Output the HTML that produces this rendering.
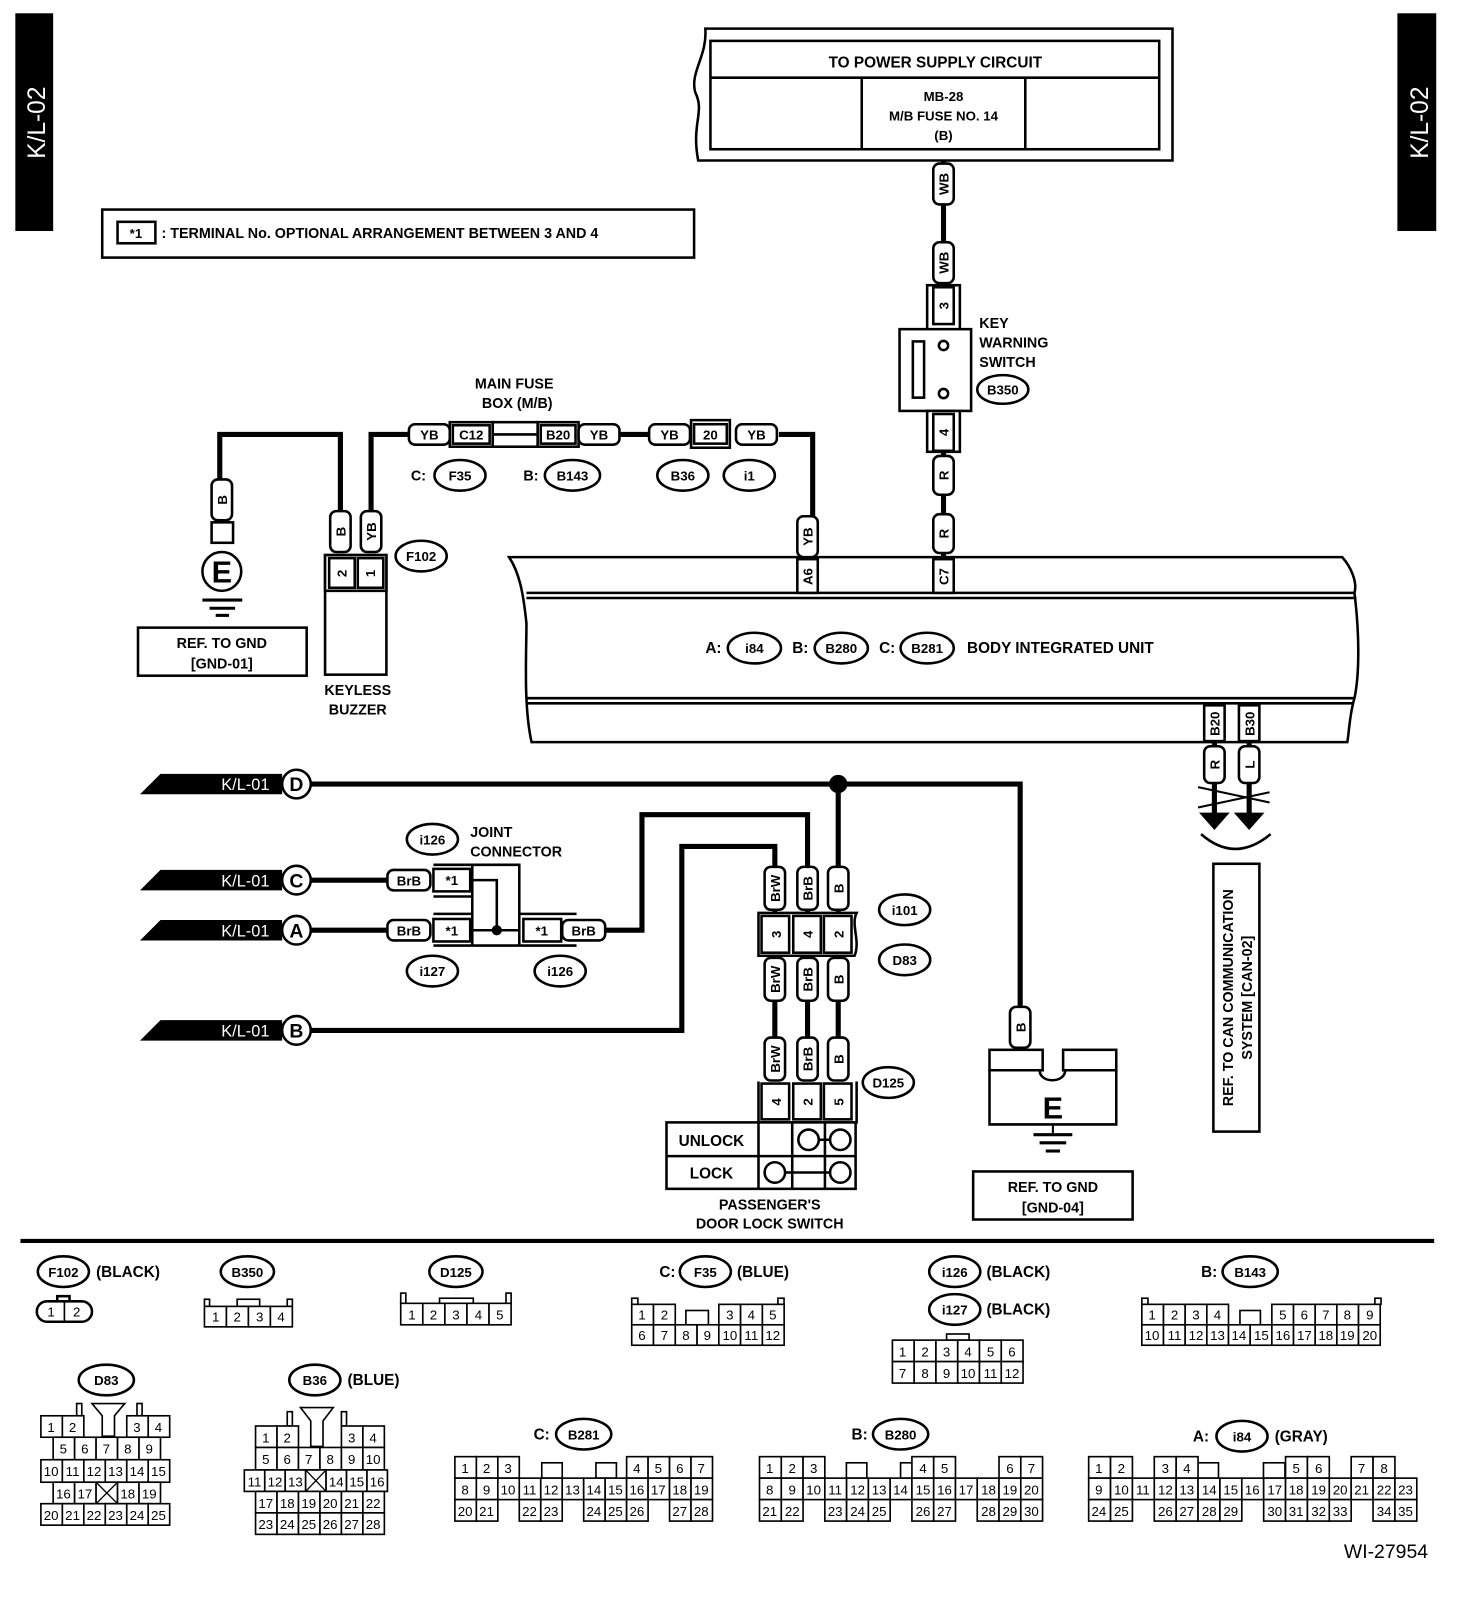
<!DOCTYPE html>
<html><head><meta charset="utf-8"><style>
html,body{margin:0;padding:0;background:#fff}
svg{display:block}
text{font-family:"Liberation Sans",Arial,sans-serif;font-weight:bold;fill:#000}
.w{stroke:#000;stroke-width:5;fill:none}
.o{stroke:#000;stroke-width:2.5;fill:#fff}
.on{stroke:#000;stroke-width:2.5;fill:none}
.t{font-size:15px;text-anchor:middle}
.s{font-size:13px;text-anchor:middle}
.c rect{fill:#fff;stroke:#000;stroke-width:1.6}
.c text{font-size:13px;font-weight:normal;text-anchor:middle}
</style></head><body>
<svg width="1472" height="1610" viewBox="0 0 1440 1575" xmlns="http://www.w3.org/2000/svg">
<!-- side tabs -->
<rect x="15" y="13" width="37" height="213" fill="#000"/>
<text transform="translate(44,120) rotate(-90)" style="font-size:24px;fill:#fff;text-anchor:middle;font-weight:normal">K/L-02</text>
<rect x="1367" y="13" width="38" height="213" fill="#000"/>
<text transform="translate(1397,120) rotate(-90)" style="font-size:24px;fill:#fff;text-anchor:middle;font-weight:normal">K/L-02</text>

<!-- power supply box -->
<path d="M690,28 H1147 V157 H683 C676,120 690,110 680,90 C675,70 692,55 690,28Z" class="o" stroke-width="3"/>
<rect x="695" y="40" width="439" height="106" class="o" stroke-width="3"/>
<line x1="695" y1="76" x2="1134" y2="76" class="on"/>
<line x1="843" y1="76" x2="843" y2="146" class="on"/>
<line x1="1003" y1="76" x2="1003" y2="146" class="on"/>
<text x="915" y="66" class="t">TO POWER SUPPLY CIRCUIT</text>
<text x="923" y="99" class="s">MB-28</text>
<text x="923" y="118" class="s">M/B FUSE NO. 14</text>
<text x="923" y="137" class="s">(B)</text>

<!-- note -->
<rect x="100" y="205" width="579" height="47" class="o" stroke-width="3"/>
<rect x="115" y="217" width="37" height="21" class="o"/>
<text x="133" y="233" class="s">*1</text>
<text x="158" y="233" style="font-size:14px">: TERMINAL No. OPTIONAL ARRANGEMENT BETWEEN 3 AND 4</text>

<!-- key warning wire -->
<line x1="923" y1="157" x2="923" y2="322" class="w"/>
<line x1="923" y1="402" x2="923" y2="545" class="w"/>
<g transform="translate(923,180)"><rect x="-10" y="-20" width="20" height="40" rx="6" class="o"/><text transform="rotate(-90)" y="5" class="s">WB</text></g>
<g transform="translate(923,257)"><rect x="-10" y="-20" width="20" height="40" rx="6" class="o"/><text transform="rotate(-90)" y="5" class="s">WB</text></g>
<rect x="907" y="279" width="32" height="44" class="o"/>
<rect x="913" y="281" width="20" height="36" class="o"/>
<text transform="translate(928,299) rotate(-90)" class="s">3</text>
<rect x="880" y="322" width="70" height="80" class="o"/>
<rect x="893" y="334" width="11" height="55" class="o"/>
<circle cx="923" cy="338" r="4.5" class="o"/><circle cx="923" cy="385" r="4.5" class="o"/>
<rect x="907" y="402" width="32" height="40" class="o"/>
<rect x="913" y="405" width="20" height="36" class="o"/>
<text transform="translate(928,423) rotate(-90)" class="s">4</text>
<g transform="translate(923,465)"><rect x="-10" y="-19" width="20" height="38" rx="6" class="o"/><text transform="rotate(-90)" y="5" class="s">R</text></g>
<g transform="translate(923,522)"><rect x="-10" y="-19" width="20" height="38" rx="6" class="o"/><text transform="rotate(-90)" y="5" class="s">R</text></g>
<text x="958" y="321" style="font-size:14px">KEY</text>
<text x="958" y="340" style="font-size:14px">WARNING</text>
<text x="958" y="359" style="font-size:14px">SWITCH</text>
<ellipse cx="981" cy="381" rx="25" ry="14" class="o"/><text x="981" y="386" class="s">B350</text>

<!-- body integrated unit -->
<path d="M498,545 H1313 C1322,555 1328,570 1325,580 C1330,620 1330,660 1325,683 C1320,700 1320,715 1318,726 H520 C512,690 515,640 515,610 C512,580 508,560 498,545Z" class="o" stroke-width="3"/>
<line x1="515" y1="580" x2="1326" y2="580" class="on" stroke-width="3"/>
<line x1="515" y1="585" x2="1327" y2="585" class="on" stroke-width="2"/>
<line x1="515" y1="683" x2="1326" y2="683" class="on" stroke-width="3"/>
<line x1="515" y1="688" x2="1324" y2="688" class="on" stroke-width="2"/>
<text x="690" y="639" style="font-size:15px">A:</text>
<ellipse cx="738" cy="634" rx="26" ry="15" class="o"/><text x="738" y="639" class="s">i84</text>
<text x="775" y="639" style="font-size:15px">B:</text>
<ellipse cx="823" cy="634" rx="26" ry="15" class="o"/><text x="823" y="639" class="s">B280</text>
<text x="860" y="639" style="font-size:15px">C:</text>
<ellipse cx="907" cy="634" rx="26" ry="15" class="o"/><text x="907" y="639" class="s">B281</text>
<text x="946" y="639" style="font-size:15px">BODY INTEGRATED UNIT</text>
<rect x="913" y="547" width="20" height="33" class="o"/>
<text transform="translate(928,564) rotate(-90)" class="s">C7</text>
<rect x="780" y="547" width="20" height="33" class="o"/>
<text transform="translate(795,564) rotate(-90)" class="s">A6</text>

<!-- YB wire to A6 -->
<path d="M762,425 H795 V505" class="w"/>
<g transform="translate(790,525)"><rect x="-10" y="-20" width="20" height="40" rx="6" class="o"/><text transform="rotate(-90)" y="5" class="s">YB</text></g>
<path d="M605,425 H635" class="w"/>
<path d="M400,425 H363 V500" class="w"/>
<g transform="translate(420,425)"><rect x="-20" y="-10" width="40" height="20" rx="6" class="o"/><text y="5" class="s">YB</text></g>
<rect x="440" y="413" width="42" height="24" class="o"/><rect x="443" y="416" width="36" height="18" class="o"/><text x="461" y="430" class="s">C12</text>
<rect x="482" y="413" width="44" height="24" class="o"/><line x1="482" y1="425" x2="526" y2="425" class="on"/>
<rect x="526" y="413" width="40" height="24" class="o"/><rect x="529" y="416" width="34" height="18" class="o"/><text x="546" y="430" class="s">B20</text>
<g transform="translate(586,425)"><rect x="-20" y="-10" width="40" height="20" rx="6" class="o"/><text y="5" class="s">YB</text></g>
<g transform="translate(655,425)"><rect x="-20" y="-10" width="40" height="20" rx="6" class="o"/><text y="5" class="s">YB</text></g>
<rect x="676" y="411" width="38" height="27" class="o"/><rect x="679" y="415" width="32" height="19" class="o"/><text x="695" y="430" class="s">20</text>
<g transform="translate(740,425)"><rect x="-20" y="-10" width="40" height="20" rx="6" class="o"/><text y="5" class="s">YB</text></g>
<text x="503" y="380" class="s" style="font-size:14px">MAIN FUSE</text>
<text x="506" y="399" class="s" style="font-size:14px">BOX (M/B)</text>
<text x="402" y="470" style="font-size:14px">C:</text>
<ellipse cx="450" cy="465" rx="25" ry="15" class="o"/><text x="450" y="470" class="s">F35</text>
<text x="512" y="470" style="font-size:14px">B:</text>
<ellipse cx="560" cy="465" rx="27" ry="15" class="o"/><text x="560" y="470" class="s">B143</text>
<ellipse cx="668" cy="465" rx="25" ry="15" class="o"/><text x="668" y="470" class="s">B36</text>
<ellipse cx="733" cy="465" rx="25" ry="15" class="o"/><text x="733" y="470" class="s">i1</text>

<!-- keyless buzzer -->
<path d="M333,500 V425 H215 V468" class="w"/>
<g transform="translate(333,520)"><rect x="-10" y="-20" width="20" height="40" rx="6" class="o"/><text transform="rotate(-90)" y="5" class="s">B</text></g>
<g transform="translate(363,520)"><rect x="-10" y="-20" width="20" height="40" rx="6" class="o"/><text transform="rotate(-90)" y="5" class="s">YB</text></g>
<rect x="318" y="543" width="60" height="117" class="o"/>
<rect x="318" y="543" width="60" height="35" class="o"/>
<rect x="322" y="546" width="25" height="29" class="o"/><rect x="350" y="546" width="25" height="29" class="o"/>
<text transform="translate(339,561) rotate(-90)" class="s">2</text>
<text transform="translate(367,561) rotate(-90)" class="s">1</text>
<ellipse cx="412" cy="544" rx="25" ry="15" class="o"/><text x="412" y="549" class="s">F102</text>
<text x="350" y="680" class="s" style="font-size:14px">KEYLESS</text>
<text x="350" y="699" class="s" style="font-size:14px">BUZZER</text>

<!-- ground E left -->
<g transform="translate(217,489)"><rect x="-10" y="-20" width="20" height="40" rx="6" class="o"/><text transform="rotate(-90)" y="5" class="s">B</text></g>
<rect x="207" y="511" width="21" height="20" class="o"/>
<circle cx="217" cy="559" r="19" class="o" stroke-width="3"/>
<text x="217" y="570" class="t" style="font-size:30px">E</text>
<line x1="198" y1="587" x2="237" y2="587" stroke="#000" stroke-width="3"/>
<line x1="205" y1="595" x2="230" y2="595" stroke="#000" stroke-width="3"/>
<line x1="211" y1="602" x2="224" y2="602" stroke="#000" stroke-width="3"/>
<rect x="135" y="614" width="165" height="47" class="o" stroke-width="3"/>
<text x="217" y="634" class="s" style="font-size:14px">REF. TO GND</text>
<text x="217" y="654" class="s" style="font-size:14px">[GND-01]</text>

<!-- CAN -->
<rect x="1178" y="690" width="20" height="35" class="o"/><text transform="translate(1193,708) rotate(-90)" class="s">B20</text>
<rect x="1212" y="690" width="20" height="35" class="o"/><text transform="translate(1227,708) rotate(-90)" class="s">B30</text>
<line x1="1188" y1="725" x2="1188" y2="800" class="w"/>
<line x1="1222" y1="725" x2="1222" y2="800" class="w"/>
<g transform="translate(1188,748)"><rect x="-10" y="-18" width="20" height="36" rx="6" class="o"/><text transform="rotate(-90)" y="5" class="s">R</text></g>
<g transform="translate(1222,748)"><rect x="-10" y="-18" width="20" height="36" rx="6" class="o"/><text transform="rotate(-90)" y="5" class="s">L</text></g>
<path d="M1173,795 H1203 L1188,812Z M1207,795 H1237 L1222,812Z" fill="#000"/>
<line x1="1172" y1="770" x2="1242" y2="785" stroke="#000" stroke-width="2"/>
<line x1="1172" y1="790" x2="1242" y2="775" stroke="#000" stroke-width="2"/>
<path d="M1175,816 Q1208,845 1243,816" class="on" stroke-width="2"/>
<rect x="1187" y="845" width="45" height="262" class="o" stroke-width="3"/>
<text transform="translate(1206,976) rotate(-90)" class="s" style="font-size:14px">REF. TO CAN COMMUNICATION</text>
<text transform="translate(1225,976) rotate(-90)" class="s" style="font-size:14px">SYSTEM [CAN-02]</text>

<!-- K/L-01 arrows -->
<g>
<polygon points="137,777 157,757 276,757 276,777" fill="#000"/>
<text x="240" y="773" class="t" style="fill:#fff;font-weight:normal;font-size:16px">K/L-01</text>
<polygon points="137,871 157,851 276,851 276,871" fill="#000"/>
<text x="240" y="867" class="t" style="fill:#fff;font-weight:normal;font-size:16px">K/L-01</text>
<polygon points="137,920 157,900 276,900 276,920" fill="#000"/>
<text x="240" y="916" class="t" style="fill:#fff;font-weight:normal;font-size:16px">K/L-01</text>
<polygon points="137,1018 157,998 276,998 276,1018" fill="#000"/>
<text x="240" y="1014" class="t" style="fill:#fff;font-weight:normal;font-size:16px">K/L-01</text>
</g>
<!-- wires -->
<path d="M304,767 H998 V985" class="w"/>
<path d="M820,767 V848" class="w"/>
<circle cx="820" cy="767" r="9" fill="#000"/>
<path d="M304,861 H378" class="w"/>
<path d="M304,910 H378" class="w"/>
<path d="M592,910 H628 V797 H790 V848" class="w"/>
<path d="M304,1008 H667 V828 H758 V848" class="w"/>
<path d="M758,890 V1015 M790,890 V1015 M820,890 V1015" class="w"/>
<circle cx="290" cy="767" r="14" class="o" stroke-width="3"/><text x="290" y="774" class="t" style="font-size:19px">D</text>
<circle cx="290" cy="861" r="14" class="o" stroke-width="3"/><text x="290" y="868" class="t" style="font-size:19px">C</text>
<circle cx="290" cy="910" r="14" class="o" stroke-width="3"/><text x="290" y="917" class="t" style="font-size:19px">A</text>
<circle cx="290" cy="1008" r="14" class="o" stroke-width="3"/><text x="290" y="1015" class="t" style="font-size:19px">B</text>

<!-- joint connector -->
<g transform="translate(400,861)"><rect x="-21" y="-10" width="42" height="20" rx="6" class="o"/><text y="5" class="s">BrB</text></g>
<g transform="translate(400,910)"><rect x="-21" y="-10" width="42" height="20" rx="6" class="o"/><text y="5" class="s">BrB</text></g>
<g transform="translate(571,910)"><rect x="-21" y="-10" width="42" height="20" rx="6" class="o"/><text y="5" class="s">BrB</text></g>
<rect x="424" y="850" width="36" height="22" class="o"/><text x="442" y="866" class="s">*1</text>
<rect x="424" y="899" width="36" height="22" class="o"/><text x="442" y="915" class="s">*1</text>
<rect x="512" y="899" width="37" height="22" class="o"/><text x="530" y="915" class="s">*1</text>
<path d="M424,846 H508 V925 H424 M424,877 H462 M424,894 H462 M462,846 V925 M508,894 H564 M508,925 H564" class="on"/>
<path d="M462,861 H486 V910 M462,910 H508" class="on" stroke-width="3"/>
<circle cx="486" cy="910" r="5" fill="#000"/>
<ellipse cx="423" cy="821" rx="25" ry="15" class="o"/><text x="423" y="826" class="s">i126</text>
<text x="460" y="819" style="font-size:14px">JOINT</text>
<text x="460" y="838" style="font-size:14px">CONNECTOR</text>
<ellipse cx="423" cy="950" rx="25" ry="15" class="o"/><text x="423" y="955" class="s">i127</text>
<ellipse cx="548" cy="950" rx="25" ry="15" class="o"/><text x="548" y="955" class="s">i126</text>

<!-- i101 / D83 -->
<g transform="translate(758,869)"><rect x="-10" y="-21" width="20" height="42" rx="6" class="o"/><text transform="rotate(-90)" y="5" class="s">BrW</text></g>
<g transform="translate(790,869)"><rect x="-10" y="-21" width="20" height="42" rx="6" class="o"/><text transform="rotate(-90)" y="5" class="s">BrB</text></g>
<g transform="translate(820,869)"><rect x="-10" y="-21" width="20" height="42" rx="6" class="o"/><text transform="rotate(-90)" y="5" class="s">B</text></g>
<path d="M742,893 H838 C832,905 842,920 836,935 H742Z" class="o"/>
<rect x="745" y="896" width="27" height="36" class="o"/><rect x="776" y="896" width="27" height="36" class="o"/><rect x="806" y="896" width="27" height="36" class="o"/>
<text transform="translate(764,914) rotate(-90)" class="s">3</text>
<text transform="translate(795,914) rotate(-90)" class="s">4</text>
<text transform="translate(825,914) rotate(-90)" class="s">2</text>
<g transform="translate(758,958)"><rect x="-10" y="-21" width="20" height="42" rx="6" class="o"/><text transform="rotate(-90)" y="5" class="s">BrW</text></g>
<g transform="translate(790,958)"><rect x="-10" y="-21" width="20" height="42" rx="6" class="o"/><text transform="rotate(-90)" y="5" class="s">BrB</text></g>
<g transform="translate(820,958)"><rect x="-10" y="-21" width="20" height="42" rx="6" class="o"/><text transform="rotate(-90)" y="5" class="s">B</text></g>
<g transform="translate(758,1036)"><rect x="-10" y="-21" width="20" height="42" rx="6" class="o"/><text transform="rotate(-90)" y="5" class="s">BrW</text></g>
<g transform="translate(790,1036)"><rect x="-10" y="-21" width="20" height="42" rx="6" class="o"/><text transform="rotate(-90)" y="5" class="s">BrB</text></g>
<g transform="translate(820,1036)"><rect x="-10" y="-21" width="20" height="42" rx="6" class="o"/><text transform="rotate(-90)" y="5" class="s">B</text></g>
<ellipse cx="885" cy="890" rx="25" ry="15" class="o"/><text x="885" y="895" class="s">i101</text>
<ellipse cx="885" cy="939" rx="25" ry="15" class="o"/><text x="885" y="944" class="s">D83</text>
<!-- D125 switch -->
<path d="M742,1058 V1098 H838 V1058" class="on"/>
<rect x="745" y="1060" width="27" height="35" class="o"/><rect x="776" y="1060" width="27" height="35" class="o"/><rect x="806" y="1060" width="27" height="35" class="o"/>
<text transform="translate(764,1078) rotate(-90)" class="s">4</text>
<text transform="translate(795,1078) rotate(-90)" class="s">2</text>
<text transform="translate(825,1078) rotate(-90)" class="s">5</text>
<ellipse cx="869" cy="1059" rx="25" ry="15" class="o"/><text x="869" y="1064" class="s">D125</text>
<rect x="652" y="1098" width="185" height="65" class="o" stroke-width="3"/>
<line x1="652" y1="1131" x2="837" y2="1131" class="on"/>
<line x1="742" y1="1098" x2="742" y2="1163" class="on"/>
<line x1="775" y1="1098" x2="775" y2="1163" class="on"/>
<line x1="807" y1="1098" x2="807" y2="1163" class="on"/>
<circle cx="791" cy="1115" r="10" class="o"/><circle cx="822" cy="1115" r="10" class="o"/>
<line x1="801" y1="1115" x2="812" y2="1115" class="on"/>
<circle cx="758" cy="1147" r="10" class="o"/><circle cx="822" cy="1147" r="10" class="o"/>
<line x1="768" y1="1147" x2="812" y2="1147" class="on"/>
<text x="696" y="1121" class="s" style="font-size:15px">UNLOCK</text>
<text x="696" y="1153" class="s" style="font-size:15px">LOCK</text>
<text x="753" y="1183" class="s" style="font-size:14px">PASSENGER'S</text>
<text x="753" y="1202" class="s" style="font-size:14px">DOOR LOCK SWITCH</text>

<!-- ground E right -->
<g transform="translate(998,1005)"><rect x="-10" y="-20" width="20" height="40" rx="6" class="o"/><text transform="rotate(-90)" y="5" class="s">B</text></g>
<rect x="968" y="1027" width="52" height="20" class="o" stroke-width="3"/>
<rect x="1040" y="1027" width="52" height="20" class="o" stroke-width="3"/>
<path d="M968,1047 H1017 C1017,1060 1042,1060 1042,1047 H1092 V1100 H968Z" class="o" stroke-width="3"/>
<text x="1030" y="1094" class="t" style="font-size:30px">E</text>
<line x1="1011" y1="1110" x2="1049" y2="1110" stroke="#000" stroke-width="3"/>
<line x1="1017" y1="1118" x2="1043" y2="1118" stroke="#000" stroke-width="3"/>
<line x1="1023" y1="1126" x2="1037" y2="1126" stroke="#000" stroke-width="3"/>
<line x1="1030" y1="1100" x2="1030" y2="1110" stroke="#000" stroke-width="2"/>
<rect x="952" y="1146" width="156" height="47" class="o" stroke-width="3"/>
<text x="1030" y="1166" class="s" style="font-size:14px">REF. TO GND</text>
<text x="1030" y="1186" class="s" style="font-size:14px">[GND-04]</text>

<!-- divider -->
<line x1="20" y1="1214" x2="1403" y2="1214" stroke="#000" stroke-width="4"/>

<!-- connector legends -->
<ellipse cx="62" cy="1244" rx="25" ry="15" class="o"/><text x="62" y="1249" class="s">F102</text>
<text x="94" y="1249" style="font-size:15px">(BLACK)</text>
<rect x="56" y="1268" width="12" height="6" class="o" stroke-width="1.5"/>
<rect x="36" y="1273" width="54" height="20" rx="10" class="o" stroke-width="1.6"/>
<line x1="63" y1="1273" x2="63" y2="1293" stroke="#000" stroke-width="1.6"/>
<text x="50" y="1288" class="s" style="font-weight:normal">1</text><text x="75" y="1288" class="s" style="font-weight:normal">2</text>

<ellipse cx="242" cy="1244" rx="26" ry="15" class="o"/><text x="242" y="1249" class="s">B350</text>
<g class="c" transform="translate(200,1278)">
<rect x="0" y="-7" width="5" height="7"/><rect x="32" y="-7" width="22" height="7"/><rect x="81" y="-7" width="5" height="7"/>
<rect x="0" y="0" width="21.5" height="20"/><rect x="21.5" y="0" width="21.5" height="20"/><rect x="43" y="0" width="21.5" height="20"/><rect x="64.5" y="0" width="21.5" height="20"/>
<text x="11" y="15">1</text><text x="32" y="15">2</text><text x="54" y="15">3</text><text x="75" y="15">4</text></g>

<ellipse cx="446" cy="1244" rx="26" ry="15" class="o"/><text x="446" y="1249" class="s">D125</text>
<g class="c" transform="translate(392,1275)">
<rect x="0" y="-10" width="5" height="10"/><rect x="38" y="-5" width="33" height="5"/><rect x="103" y="-10" width="5" height="10"/>
<rect x="0" y="0" width="21.6" height="21"/><rect x="21.6" y="0" width="21.6" height="21"/><rect x="43.2" y="0" width="21.6" height="21"/><rect x="64.8" y="0" width="21.6" height="21"/><rect x="86.4" y="0" width="21.6" height="21"/>
<text x="11" y="16">1</text><text x="32" y="16">2</text><text x="54" y="16">3</text><text x="76" y="16">4</text><text x="97" y="16">5</text></g>

<text x="645" y="1249" style="font-size:15px">C:</text>
<ellipse cx="690" cy="1244" rx="25" ry="15" class="o"/><text x="690" y="1249" class="s">F35</text>
<text x="721" y="1249" style="font-size:15px">(BLUE)</text>
<g class="c" transform="translate(618,1276)">
<rect x="0" y="-6" width="6" height="6"/><rect x="143" y="-6" width="6" height="6"/><rect x="53" y="6" width="22" height="14"/>
<rect x="0" y="0" width="21.3" height="20"/><rect x="21.3" y="0" width="21.3" height="20"/>
<rect x="85.2" y="0" width="21.3" height="20"/><rect x="106.5" y="0" width="21.3" height="20"/><rect x="127.8" y="0" width="21.3" height="20"/>
<rect x="0" y="20" width="21.3" height="20"/><rect x="21.3" y="20" width="21.3" height="20"/><rect x="42.6" y="20" width="21.3" height="20"/><rect x="63.9" y="20" width="21.3" height="20"/><rect x="85.2" y="20" width="21.3" height="20"/><rect x="106.5" y="20" width="21.3" height="20"/><rect x="127.8" y="20" width="21.3" height="20"/>
<text x="10" y="15">1</text><text x="32" y="15">2</text><text x="96" y="15">3</text><text x="117" y="15">4</text><text x="138" y="15">5</text>
<text x="10" y="35">6</text><text x="32" y="35">7</text><text x="53" y="35">8</text><text x="74" y="35">9</text><text x="96" y="35">10</text><text x="117" y="35">11</text><text x="138" y="35">12</text></g>

<ellipse cx="934" cy="1244" rx="25" ry="15" class="o"/><text x="934" y="1249" class="s">i126</text>
<text x="965" y="1249" style="font-size:15px">(BLACK)</text>
<ellipse cx="934" cy="1281" rx="25" ry="15" class="o"/><text x="934" y="1286" class="s">i127</text>
<text x="965" y="1286" style="font-size:15px">(BLACK)</text>
<g class="c" transform="translate(873,1311)">
<rect x="53" y="-6" width="22" height="6"/>
<rect x="0" y="0" width="21.3" height="21"/><rect x="21.3" y="0" width="21.3" height="21"/><rect x="42.6" y="0" width="21.3" height="21"/><rect x="63.9" y="0" width="21.3" height="21"/><rect x="85.2" y="0" width="21.3" height="21"/><rect x="106.5" y="0" width="21.3" height="21"/>
<rect x="0" y="21" width="21.3" height="21"/><rect x="21.3" y="21" width="21.3" height="21"/><rect x="42.6" y="21" width="21.3" height="21"/><rect x="63.9" y="21" width="21.3" height="21"/><rect x="85.2" y="21" width="21.3" height="21"/><rect x="106.5" y="21" width="21.3" height="21"/>
<text x="10" y="16">1</text><text x="32" y="16">2</text><text x="53" y="16">3</text><text x="74" y="16">4</text><text x="96" y="16">5</text><text x="117" y="16">6</text>
<text x="10" y="37">7</text><text x="32" y="37">8</text><text x="53" y="37">9</text><text x="74" y="37">10</text><text x="96" y="37">11</text><text x="117" y="37">12</text></g>

<text x="1175" y="1249" style="font-size:15px">B:</text>
<ellipse cx="1223" cy="1244" rx="27" ry="15" class="o"/><text x="1223" y="1249" class="s">B143</text>
<g class="c" transform="translate(1117,1276)">
<rect x="0" y="-6" width="6" height="6"/><rect x="228" y="-6" width="6" height="6"/><rect x="96" y="6" width="20" height="14"/>
<rect x="0" y="0" width="21.2" height="20"/><rect x="21.2" y="0" width="21.2" height="20"/><rect x="42.4" y="0" width="21.2" height="20"/><rect x="63.6" y="0" width="21.2" height="20"/>
<rect x="127.2" y="0" width="21.2" height="20"/><rect x="148.4" y="0" width="21.2" height="20"/><rect x="169.6" y="0" width="21.2" height="20"/><rect x="190.8" y="0" width="21.2" height="20"/><rect x="212" y="0" width="21.2" height="20"/>
<rect x="0" y="20" width="21.2" height="20"/><rect x="21.2" y="20" width="21.2" height="20"/><rect x="42.4" y="20" width="21.2" height="20"/><rect x="63.6" y="20" width="21.2" height="20"/><rect x="84.8" y="20" width="21.2" height="20"/><rect x="106" y="20" width="21.2" height="20"/><rect x="127.2" y="20" width="21.2" height="20"/><rect x="148.4" y="20" width="21.2" height="20"/><rect x="169.6" y="20" width="21.2" height="20"/><rect x="190.8" y="20" width="21.2" height="20"/><rect x="212" y="20" width="21.2" height="20"/>
<text x="10" y="15">1</text><text x="32" y="15">2</text><text x="53" y="15">3</text><text x="74" y="15">4</text><text x="138" y="15">5</text><text x="159" y="15">6</text><text x="180" y="15">7</text><text x="201" y="15">8</text><text x="223" y="15">9</text>
<text x="10" y="35">10</text><text x="32" y="35">11</text><text x="53" y="35">12</text><text x="74" y="35">13</text><text x="95" y="35">14</text><text x="117" y="35">15</text><text x="138" y="35">16</text><text x="159" y="35">17</text><text x="180" y="35">18</text><text x="201" y="35">19</text><text x="223" y="35">20</text></g>

<!-- D83 -->
<ellipse cx="104" cy="1350" rx="27" ry="15" class="o"/><text x="104" y="1355" class="s">D83</text>
<g class="c" transform="translate(40,1385)">
<rect x="35" y="-12" width="5" height="12"/><rect x="94" y="-12" width="5" height="12"/>
<path d="M50,-12 H82 L72,0 V20 H60 V0Z" fill="#fff" stroke="#000" stroke-width="1.6"/>
<rect x="0" y="0" width="21" height="21"/><rect x="21" y="0" width="21" height="21"/><rect x="84" y="0" width="21" height="21"/><rect x="105" y="0" width="21" height="21"/>
<rect x="12" y="21" width="21" height="22"/><rect x="33" y="21" width="21" height="22"/><rect x="54" y="21" width="21" height="22"/><rect x="75" y="21" width="21" height="22"/><rect x="96" y="21" width="21" height="22"/>
<rect x="0" y="43" width="21" height="22"/><rect x="21" y="43" width="21" height="22"/><rect x="42" y="43" width="21" height="22"/><rect x="63" y="43" width="21" height="22"/><rect x="84" y="43" width="21" height="22"/><rect x="105" y="43" width="21" height="22"/>
<rect x="12" y="65" width="21" height="21"/><rect x="33" y="65" width="21" height="21"/><rect x="54" y="65" width="21" height="21"/><rect x="75" y="65" width="21" height="21"/><rect x="96" y="65" width="21" height="21"/>
<path d="M54,65 L75,86 M75,65 L54,86" stroke="#000" stroke-width="1.3"/>
<rect x="0" y="86" width="21" height="21"/><rect x="21" y="86" width="21" height="21"/><rect x="42" y="86" width="21" height="21"/><rect x="63" y="86" width="21" height="21"/><rect x="84" y="86" width="21" height="21"/><rect x="105" y="86" width="21" height="21"/>
<text x="10" y="16">1</text><text x="31" y="16">2</text><text x="94" y="16">3</text><text x="115" y="16">4</text>
<text x="22" y="37">5</text><text x="43" y="37">6</text><text x="64" y="37">7</text><text x="85" y="37">8</text><text x="106" y="37">9</text>
<text x="10" y="59">10</text><text x="31" y="59">11</text><text x="52" y="59">12</text><text x="73" y="59">13</text><text x="94" y="59">14</text><text x="115" y="59">15</text>
<text x="22" y="81">16</text><text x="43" y="81">17</text><text x="85" y="81">18</text><text x="106" y="81">19</text>
<text x="10" y="102">20</text><text x="31" y="102">21</text><text x="52" y="102">22</text><text x="73" y="102">23</text><text x="94" y="102">24</text><text x="115" y="102">25</text></g>

<!-- B36 -->
<ellipse cx="308" cy="1350" rx="25" ry="15" class="o"/><text x="308" y="1355" class="s">B36</text>
<text x="340" y="1355" style="font-size:15px">(BLUE)</text>
<g class="c" transform="translate(250,1395)">
<rect x="31" y="-14" width="5" height="14"/><rect x="84" y="-14" width="5" height="14"/>
<path d="M44,-18 H76 L66,-5 V20 H54 V-5Z" fill="#fff" stroke="#000" stroke-width="1.6"/>
<rect x="0" y="0" width="21" height="21"/><rect x="21" y="0" width="21" height="21"/><rect x="84" y="0" width="21" height="21"/><rect x="105" y="0" width="21" height="21"/>
<rect x="0" y="21" width="21" height="22"/><rect x="21" y="21" width="21" height="22"/><rect x="42" y="21" width="21" height="22"/><rect x="63" y="21" width="21" height="22"/><rect x="84" y="21" width="21" height="22"/><rect x="105" y="21" width="21" height="22"/>
<rect x="-11" y="43" width="20" height="21"/><rect x="9" y="43" width="20" height="21"/><rect x="29" y="43" width="20" height="21"/><rect x="49" y="43" width="20" height="21"/><rect x="69" y="43" width="20" height="21"/><rect x="89" y="43" width="20" height="21"/><rect x="109" y="43" width="20" height="21"/>
<path d="M49,43 L69,64 M69,43 L49,64" stroke="#000" stroke-width="1.3"/>
<rect x="0" y="64" width="21" height="21"/><rect x="21" y="64" width="21" height="21"/><rect x="42" y="64" width="21" height="21"/><rect x="63" y="64" width="21" height="21"/><rect x="84" y="64" width="21" height="21"/><rect x="105" y="64" width="21" height="21"/>
<rect x="0" y="85" width="21" height="21"/><rect x="21" y="85" width="21" height="21"/><rect x="42" y="85" width="21" height="21"/><rect x="63" y="85" width="21" height="21"/><rect x="84" y="85" width="21" height="21"/><rect x="105" y="85" width="21" height="21"/>
<text x="10" y="16">1</text><text x="31" y="16">2</text><text x="94" y="16">3</text><text x="115" y="16">4</text>
<text x="10" y="37">5</text><text x="31" y="37">6</text><text x="52" y="37">7</text><text x="73" y="37">8</text><text x="94" y="37">9</text><text x="115" y="37">10</text>
<text x="-1" y="59">11</text><text x="19" y="59">12</text><text x="39" y="59">13</text><text x="79" y="59">14</text><text x="99" y="59">15</text><text x="119" y="59">16</text>
<text x="10" y="80">17</text><text x="31" y="80">18</text><text x="52" y="80">19</text><text x="73" y="80">20</text><text x="94" y="80">21</text><text x="115" y="80">22</text>
<text x="10" y="101">23</text><text x="31" y="101">24</text><text x="52" y="101">25</text><text x="73" y="101">26</text><text x="94" y="101">27</text><text x="115" y="101">28</text></g>

<!-- B281 -->
<text x="522" y="1408" style="font-size:15px">C:</text>
<ellipse cx="571" cy="1403" rx="27" ry="15" class="o"/><text x="571" y="1408" class="s">B281</text>
<g class="c" transform="translate(445,1425)">
<rect x="85" y="6" width="20" height="15"/><rect x="138" y="6" width="20" height="15"/>
<rect x="0" y="0" width="21" height="21"/><rect x="21" y="0" width="21" height="21"/><rect x="42" y="0" width="21" height="21"/>
<rect x="168" y="0" width="21" height="21"/><rect x="189" y="0" width="21" height="21"/><rect x="210" y="0" width="21" height="21"/><rect x="231" y="0" width="21" height="21"/>
<rect x="0" y="21" width="21" height="21"/><rect x="21" y="21" width="21" height="21"/><rect x="42" y="21" width="21" height="21"/><rect x="63" y="21" width="21" height="21"/><rect x="84" y="21" width="21" height="21"/><rect x="105" y="21" width="21" height="21"/><rect x="126" y="21" width="21" height="21"/><rect x="147" y="21" width="21" height="21"/><rect x="168" y="21" width="21" height="21"/><rect x="189" y="21" width="21" height="21"/><rect x="210" y="21" width="21" height="21"/><rect x="231" y="21" width="21" height="21"/>
<rect x="0" y="42" width="21" height="21"/><rect x="21" y="42" width="21" height="21"/><rect x="63" y="42" width="21" height="21"/><rect x="84" y="42" width="21" height="21"/><rect x="126" y="42" width="21" height="21"/><rect x="147" y="42" width="21" height="21"/><rect x="168" y="42" width="21" height="21"/><rect x="210" y="42" width="21" height="21"/><rect x="231" y="42" width="21" height="21"/>
<text x="10" y="16">1</text><text x="31" y="16">2</text><text x="52" y="16">3</text><text x="178" y="16">4</text><text x="199" y="16">5</text><text x="220" y="16">6</text><text x="241" y="16">7</text>
<text x="10" y="37">8</text><text x="31" y="37">9</text><text x="52" y="37">10</text><text x="73" y="37">11</text><text x="94" y="37">12</text><text x="115" y="37">13</text><text x="136" y="37">14</text><text x="157" y="37">15</text><text x="178" y="37">16</text><text x="199" y="37">17</text><text x="220" y="37">18</text><text x="241" y="37">19</text>
<text x="10" y="58">20</text><text x="31" y="58">21</text><text x="73" y="58">22</text><text x="94" y="58">23</text><text x="136" y="58">24</text><text x="157" y="58">25</text><text x="178" y="58">26</text><text x="220" y="58">27</text><text x="241" y="58">28</text></g>

<!-- B280 -->
<text x="833" y="1408" style="font-size:15px">B:</text>
<ellipse cx="881" cy="1403" rx="27" ry="15" class="o"/><text x="881" y="1408" class="s">B280</text>
<g class="c" transform="translate(743,1425)">
<rect x="85" y="6" width="20" height="15"/><rect x="138" y="6" width="20" height="15"/>
<rect x="0" y="0" width="21.3" height="21"/><rect x="21.3" y="0" width="21.3" height="21"/><rect x="42.6" y="0" width="21.3" height="21"/>
<rect x="149.1" y="0" width="21.3" height="21"/><rect x="170.4" y="0" width="21.3" height="21"/>
<rect x="234.3" y="0" width="21.3" height="21"/><rect x="255.6" y="0" width="21.3" height="21"/>
<rect x="0" y="21" width="21.3" height="21"/><rect x="21.3" y="21" width="21.3" height="21"/><rect x="42.6" y="21" width="21.3" height="21"/><rect x="63.9" y="21" width="21.3" height="21"/><rect x="85.2" y="21" width="21.3" height="21"/><rect x="106.5" y="21" width="21.3" height="21"/><rect x="127.8" y="21" width="21.3" height="21"/><rect x="149.1" y="21" width="21.3" height="21"/><rect x="170.4" y="21" width="21.3" height="21"/><rect x="191.7" y="21" width="21.3" height="21"/><rect x="213" y="21" width="21.3" height="21"/><rect x="234.3" y="21" width="21.3" height="21"/><rect x="255.6" y="21" width="21.3" height="21"/>
<rect x="0" y="42" width="21.3" height="21"/><rect x="21.3" y="42" width="21.3" height="21"/><rect x="63.9" y="42" width="21.3" height="21"/><rect x="85.2" y="42" width="21.3" height="21"/><rect x="106.5" y="42" width="21.3" height="21"/><rect x="149.1" y="42" width="21.3" height="21"/><rect x="170.4" y="42" width="21.3" height="21"/><rect x="213" y="42" width="21.3" height="21"/><rect x="234.3" y="42" width="21.3" height="21"/><rect x="255.6" y="42" width="21.3" height="21"/>
<text x="10" y="16">1</text><text x="32" y="16">2</text><text x="53" y="16">3</text><text x="160" y="16">4</text><text x="181" y="16">5</text><text x="245" y="16">6</text><text x="266" y="16">7</text>
<text x="10" y="37">8</text><text x="32" y="37">9</text><text x="53" y="37">10</text><text x="74" y="37">11</text><text x="96" y="37">12</text><text x="117" y="37">13</text><text x="138" y="37">14</text><text x="160" y="37">15</text><text x="181" y="37">16</text><text x="202" y="37">17</text><text x="224" y="37">18</text><text x="245" y="37">19</text><text x="266" y="37">20</text>
<text x="10" y="58">21</text><text x="32" y="58">22</text><text x="74" y="58">23</text><text x="96" y="58">24</text><text x="117" y="58">25</text><text x="160" y="58">26</text><text x="181" y="58">27</text><text x="224" y="58">28</text><text x="245" y="58">29</text><text x="266" y="58">30</text></g>

<!-- i84 -->
<text x="1167" y="1410" style="font-size:15px">A:</text>
<ellipse cx="1215" cy="1405" rx="25" ry="15" class="o"/><text x="1215" y="1410" class="s">i84</text>
<text x="1247" y="1410" style="font-size:15px">(GRAY)</text>
<g class="c" transform="translate(1065,1425)">
<rect x="106" y="6" width="21" height="15"/><rect x="171" y="6" width="21" height="15"/>
<rect x="0" y="0" width="21.4" height="21"/><rect x="21.4" y="0" width="21.4" height="21"/>
<rect x="64.2" y="0" width="21.4" height="21"/><rect x="85.6" y="0" width="21.4" height="21"/>
<rect x="192.6" y="0" width="21.4" height="21"/><rect x="214" y="0" width="21.4" height="21"/>
<rect x="256.8" y="0" width="21.4" height="21"/><rect x="278.2" y="0" width="21.4" height="21"/>
<rect x="0" y="21" width="21.4" height="21"/><rect x="21.4" y="21" width="21.4" height="21"/><rect x="42.8" y="21" width="21.4" height="21"/><rect x="64.2" y="21" width="21.4" height="21"/><rect x="85.6" y="21" width="21.4" height="21"/><rect x="107" y="21" width="21.4" height="21"/><rect x="128.4" y="21" width="21.4" height="21"/><rect x="149.8" y="21" width="21.4" height="21"/><rect x="171.2" y="21" width="21.4" height="21"/><rect x="192.6" y="21" width="21.4" height="21"/><rect x="214" y="21" width="21.4" height="21"/><rect x="235.4" y="21" width="21.4" height="21"/><rect x="256.8" y="21" width="21.4" height="21"/><rect x="278.2" y="21" width="21.4" height="21"/><rect x="299.6" y="21" width="21.4" height="21"/>
<rect x="0" y="42" width="21.4" height="21"/><rect x="21.4" y="42" width="21.4" height="21"/>
<rect x="64.2" y="42" width="21.4" height="21"/><rect x="85.6" y="42" width="21.4" height="21"/><rect x="107" y="42" width="21.4" height="21"/><rect x="128.4" y="42" width="21.4" height="21"/>
<rect x="171.2" y="42" width="21.4" height="21"/><rect x="192.6" y="42" width="21.4" height="21"/><rect x="214" y="42" width="21.4" height="21"/><rect x="235.4" y="42" width="21.4" height="21"/>
<rect x="278.2" y="42" width="21.4" height="21"/><rect x="299.6" y="42" width="21.4" height="21"/>
<text x="10" y="16">1</text><text x="32" y="16">2</text><text x="75" y="16">3</text><text x="96" y="16">4</text><text x="203" y="16">5</text><text x="225" y="16">6</text><text x="267" y="16">7</text><text x="289" y="16">8</text>
<text x="10" y="37">9</text><text x="32" y="37">10</text><text x="53" y="37">11</text><text x="75" y="37">12</text><text x="96" y="37">13</text><text x="118" y="37">14</text><text x="139" y="37">15</text><text x="160" y="37">16</text><text x="182" y="37">17</text><text x="203" y="37">18</text><text x="225" y="37">19</text><text x="246" y="37">20</text><text x="267" y="37">21</text><text x="289" y="37">22</text><text x="310" y="37">23</text>
<text x="10" y="58">24</text><text x="32" y="58">25</text><text x="75" y="58">26</text><text x="96" y="58">27</text><text x="118" y="58">28</text><text x="139" y="58">29</text><text x="182" y="58">30</text><text x="203" y="58">31</text><text x="225" y="58">32</text><text x="246" y="58">33</text><text x="289" y="58">34</text><text x="310" y="58">35</text></g>

<text x="1397" y="1524" style="font-size:19px;font-weight:normal;text-anchor:end">WI-27954</text>
</svg>
</body></html>
